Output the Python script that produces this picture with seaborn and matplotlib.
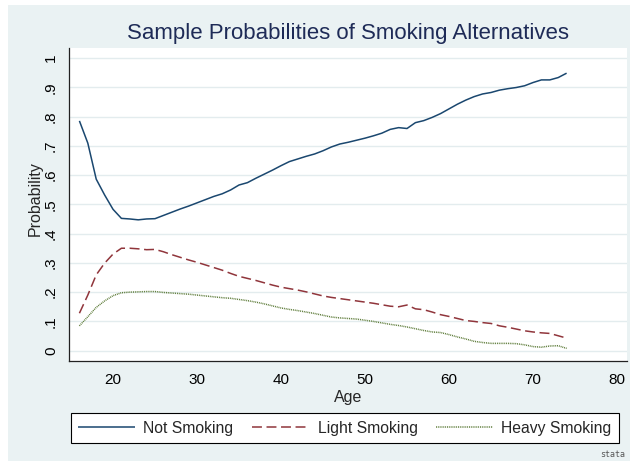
import numpy as np
import pandas as pd
import matplotlib
matplotlib.use("Agg")
import matplotlib.pyplot as plt
from matplotlib.patches import Rectangle
import seaborn as sns

ages = list(range(16, 75))
not_smoking = [0.785, 0.709, 0.586, 0.532, 0.483, 0.452, 0.450, 0.447, 0.450, 0.451,
               0.462, 0.473, 0.484, 0.494, 0.505, 0.516, 0.527, 0.536, 0.549, 0.566,
               0.574, 0.589, 0.603, 0.617, 0.632, 0.646, 0.655, 0.664, 0.672, 0.683,
               0.696, 0.706, 0.712, 0.719, 0.726, 0.734, 0.743, 0.756, 0.762, 0.759,
               0.779, 0.786, 0.797, 0.810, 0.826, 0.842, 0.856, 0.868, 0.877, 0.882,
               0.890, 0.895, 0.899, 0.905, 0.916, 0.925, 0.925, 0.933, 0.948]
light_smoking = [0.128, 0.190, 0.259, 0.299, 0.330, 0.350, 0.350, 0.348, 0.345, 0.346,
                 0.338, 0.328, 0.319, 0.310, 0.302, 0.293, 0.284, 0.275, 0.264, 0.254,
                 0.247, 0.240, 0.232, 0.224, 0.217, 0.212, 0.207, 0.201, 0.194, 0.187,
                 0.182, 0.178, 0.174, 0.170, 0.166, 0.162, 0.157, 0.152, 0.150, 0.156,
                 0.143, 0.140, 0.132, 0.123, 0.117, 0.110, 0.103, 0.100, 0.096, 0.093,
                 0.085, 0.080, 0.074, 0.068, 0.064, 0.061, 0.059, 0.051, 0.043]
heavy_smoking = [0.085, 0.116, 0.148, 0.170, 0.188, 0.198, 0.200, 0.201, 0.202, 0.202,
                 0.199, 0.197, 0.195, 0.193, 0.190, 0.187, 0.184, 0.181, 0.179, 0.175,
                 0.171, 0.166, 0.160, 0.153, 0.146, 0.141, 0.137, 0.132, 0.127, 0.121,
                 0.115, 0.112, 0.110, 0.108, 0.104, 0.100, 0.095, 0.090, 0.086, 0.081,
                 0.075, 0.069, 0.064, 0.062, 0.055, 0.047, 0.040, 0.032, 0.028, 0.025,
                 0.025, 0.025, 0.024, 0.020, 0.014, 0.012, 0.016, 0.017, 0.008]

series_names = ["Not Smoking", "Light Smoking", "Heavy Smoking"]
x_ticks = [20, 30, 40, 50, 60, 70, 80]
y_ticks = [0, 0.1, 0.2, 0.3, 0.4, 0.5, 0.6, 0.7, 0.8, 0.9, 1.0]
y_tick_labels = ["0", ".1", ".2", ".3", ".4", ".5", ".6", ".7", ".8", ".9", "1"]

sns.set_style("white")
plt.rcParams["font.family"] = ["Liberation Sans", "DejaVu Sans"]

W, H = 630, 461
fig = plt.figure(figsize=(W / 100, H / 100), dpi=100, facecolor="white")
bg = "#EAF2F3"
fig.patches.append(Rectangle((8 / W, 0), 1 - 8 / W, 1 - 5 / H, transform=fig.transFigure,
                             facecolor=bg, edgecolor="none", zorder=-10))

ax = fig.add_axes([69 / W, 1 - 361 / H, (627 - 69) / W, (361 - 48) / H])
ax.set_facecolor("white")

df = pd.DataFrame({
    "Age": ages * 3,
    "Probability": not_smoking + light_smoking + heavy_smoking,
    "Series": sum([[n] * len(ages) for n in series_names], []),
})

colors = {"Not Smoking": "#1a476f", "Light Smoking": "#90353b", "Heavy Smoking": "#55752f"}
styles = {"Not Smoking": (0, ()), "Light Smoking": (0, (6.5, 3.0)), "Heavy Smoking": (0, (0.6, 0.6))}
for name in series_names:
    sub = df[df["Series"] == name]
    sns.lineplot(data=sub, x="Age", y="Probability", ax=ax, color=colors[name],
                 linewidth=1.1, linestyle=styles[name], label=name, legend=False)

ax.set_xlim(14.76, 81.19)
ax.set_ylim(-0.0352, 1.034)
ax.set_xticks(x_ticks)
ax.set_yticks(y_ticks)
ax.set_yticklabels(y_tick_labels, rotation=90, va="center")
ax.grid(axis="y", color="#E3ECEE", linewidth=1.0)
ax.grid(axis="x", visible=False)
ax.set_axisbelow(True)

for s in ["top", "right"]:
    ax.spines[s].set_visible(False)
for s in ["left", "bottom"]:
    ax.spines[s].set_color("#222222")
    ax.spines[s].set_linewidth(0.9)

ax.tick_params(axis="both", which="major", direction="out", length=5, width=0.8,
               color="#222222", labelsize=11, labelcolor="black", pad=3)
ax.tick_params(axis="x", pad=4)

ax.set_xlabel("Age", fontsize=11.5, labelpad=2)
ax.set_ylabel("Probability", fontsize=11.5)
ax.yaxis.set_label_coords(-0.047, 0.52)

fig.text(348 / W, 1 - 33 / H, "Sample Probabilities of Smoking Alternatives",
         ha="center", va="center", fontsize=16, color="#1e2b57")

handles, labels = ax.get_legend_handles_labels()
leg = fig.legend(handles, labels, ncol=3, loc="center",
                 bbox_to_anchor=(345 / W, 1 - 428 / H), frameon=True, fancybox=False,
                 edgecolor="black", facecolor="white", framealpha=1, fontsize=11.3,
                 handlelength=3.6, handletextpad=0.55, columnspacing=1.2,
                 borderpad=0.45, borderaxespad=0)
leg.get_frame().set_linewidth(0.8)

fig.text(625 / W, 1 - 454 / H, "stata", ha="right", va="center", fontsize=6,
         color="#555555", family=["DejaVu Sans Mono"])

fig.savefig("out.png", dpi=100, facecolor=fig.get_facecolor())
